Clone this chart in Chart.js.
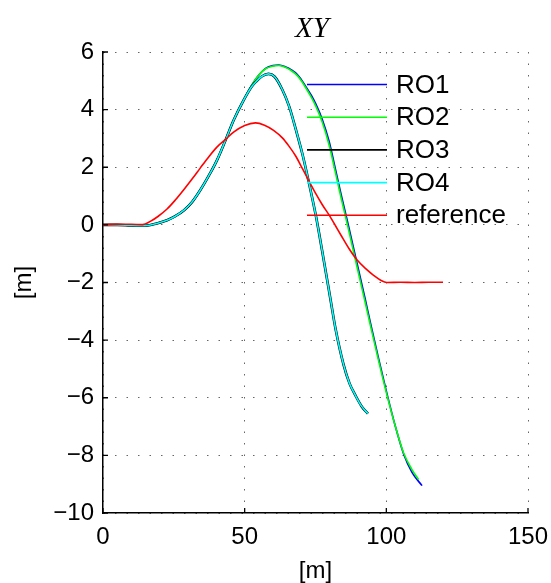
<!DOCTYPE html>
<html>
<head>
<meta charset="utf-8">
<script src="https://cdn.jsdelivr.net/npm/chart.js@4"></script>
<style>
  html, body { margin: 0; padding: 0; background: #fff; }
  canvas { display: block; }
</style>
</head>
<body>
<canvas id="xy" width="551" height="583"></canvas>
<script>
// series labels + colours
const seriesNames = ['RO1', 'RO2', 'RO3', 'RO4', 'reference'];
const seriesColors = ['#0000ff', '#00ff00', '#000000', '#00ffff', '#ff0000'];

// values
const ro1X = [0, 5, 10, 15, 19, 22.6, 25.5, 28.5, 31.5, 34.3, 37.3, 40.2, 43.2, 46.1, 49.6, 52.5, 55, 57.4, 60, 62.1, 64.5, 66.5, 68.5, 70, 71.6, 73.5, 75.1, 77.4, 79.8, 82, 84, 86.7, 89.7, 92.6, 94.4, 97.3, 100.2, 103.2, 106.1, 109.1, 112.6];
const ro1Y = [0, 0, -0.02, -0.03, 0.05, 0.16, 0.3, 0.5, 0.8, 1.2, 1.7, 2.24, 2.93, 3.63, 4.32, 4.85, 5.2, 5.43, 5.53, 5.55, 5.48, 5.38, 5.23, 5.04, 4.8, 4.5, 4.2, 3.66, 2.9, 1.95, 1.07, -0.05, -1.35, -2.6, -3.4, -4.65, -5.85, -7.0, -7.95, -8.6, -9.05];

const ro2X = [0, 5, 10, 15, 19, 22.6, 25.5, 28.5, 31.5, 34.3, 37.3, 40.2, 43.2, 46.1, 49.6, 52.5, 55, 57.4, 60, 62.1, 64.5, 66.5, 68.5, 70, 71.6, 73.5, 75.1, 77.4, 79.8, 82, 84, 86.7, 89.7, 92.6, 94.4, 97.3, 100.2, 103.2, 106.1, 109.1, 111.4];
const ro2Y = [0, 0, -0.02, -0.03, 0.05, 0.16, 0.3, 0.5, 0.8, 1.2, 1.7, 2.24, 2.93, 3.63, 4.32, 4.85, 5.2, 5.42, 5.51, 5.53, 5.46, 5.35, 5.19, 5.0, 4.75, 4.43, 4.12, 3.56, 2.77, 1.83, 0.95, -0.18, -1.48, -2.72, -3.5, -4.73, -5.9, -7.0, -7.92, -8.5, -8.84];

const ro3X = [0, 5, 10, 15, 19, 22.6, 25.5, 28.5, 31.5, 34.3, 37.3, 40.2, 43.2, 46.1, 49.6, 52.5, 54, 56, 58.4, 60.5, 63.3, 65.7, 68, 70.4, 72.7, 75.1, 77.4, 80.4, 82, 84.9, 87, 89.1, 91.3, 93.5];
const ro3Y = [0, 0, -0.02, -0.03, 0.05, 0.16, 0.3, 0.5, 0.8, 1.2, 1.7, 2.24, 2.93, 3.63, 4.32, 4.8, 4.97, 5.15, 5.24, 5.15, 4.69, 4.11, 3.33, 2.45, 1.45, 0.33, -0.93, -2.65, -3.57, -4.85, -5.5, -5.92, -6.3, -6.55];

const ro4X = [0, 5, 10, 15, 19, 22.6, 25.5, 28.5, 31.5, 34.3, 37.3, 40.2, 43.2, 46.1, 49.6, 52.5, 54, 56, 58.4, 60.5, 63.3, 65.7, 68, 70.4, 72.7, 75.1, 77.4, 80.4, 82, 84.9, 87, 89.1, 91.3, 93.5];
const ro4Y = [0, 0, -0.02, -0.03, 0.05, 0.16, 0.3, 0.5, 0.8, 1.2, 1.7, 2.24, 2.93, 3.63, 4.32, 4.8, 4.97, 5.15, 5.24, 5.15, 4.69, 4.11, 3.33, 2.45, 1.45, 0.33, -0.93, -2.65, -3.57, -4.85, -5.5, -5.92, -6.3, -6.55];

const refX = [0, 5, 10, 14, 16.7, 19.5, 22.6, 25.5, 28.5, 31.5, 34.3, 37.3, 40.2, 43.2, 46.1, 50, 53.8, 57, 60.2, 63.3, 65.5, 68, 70.4, 72.7, 75, 77.4, 80.2, 82.1, 84, 86.8, 89.7, 92.7, 95.5, 98, 100.2, 105, 110, 115, 120];
const refY = [0, 0.02, 0.02, 0.01, 0.12, 0.3, 0.55, 0.86, 1.22, 1.6, 1.97, 2.36, 2.7, 2.96, 3.22, 3.45, 3.54, 3.46, 3.28, 3.02, 2.75, 2.39, 1.95, 1.52, 1.1, 0.7, 0.28, -0.04, -0.36, -0.82, -1.22, -1.52, -1.75, -1.92, -2.0, -1.99, -2.0, -1.99, -1.99];

// axis ticks
const xTicks = [0, 50, 100, 150];
const yTicks = [-10, -8, -6, -4, -2, 0, 2, 4, 6];

const allX = [ro1X, ro2X, ro3X, ro4X, refX];
const allY = [ro1Y, ro2Y, ro3Y, ro4Y, refY];

const datasets = seriesNames.map((name, i) => ({
    label: name,
    data: allX[i].map((x, k) => ({x: x, y: allY[i][k]})),
    borderColor: seriesColors[i],
    backgroundColor: seriesColors[i],
    borderWidth: i === 2 ? 2.6 : 1.6,
    showLine: true,
    pointRadius: 0,
    cubicInterpolationMode: 'monotone',
    fill: false,
    order: 5 - i   // matlab draws later lines on top
}));

const minus = v => (v < 0 ? '\u2212' + Math.abs(v) : '' + v);

// inward tick marks, legend, title
const extras = {
    id: 'extras',
    afterDraw(chart) {
        const ctx = chart.ctx;
        const area = chart.chartArea;
        const xs = chart.scales.x, ys = chart.scales.y;
        ctx.save();
        ctx.strokeStyle = '#000';
        ctx.lineWidth = 1.3;
        ctx.beginPath();
        yTicks.forEach(t => {
            const py = ys.getPixelForValue(t);
            ctx.moveTo(area.left, py);
            ctx.lineTo(area.left + 5, py);
        });
        xTicks.forEach(t => {
            const px = xs.getPixelForValue(t);
            ctx.moveTo(px, area.bottom);
            ctx.lineTo(px, area.bottom - 5);
        });
        ctx.stroke();

        // legend (matlab style, no box)
        ctx.font = '26px "Liberation Sans", Arial, sans-serif';
        ctx.textBaseline = 'middle';
        ctx.textAlign = 'left';
        seriesNames.forEach((name, i) => {
            const ly = 84.5 + i * 32.7;
            ctx.strokeStyle = seriesColors[i];
            ctx.lineWidth = 1.6;
            ctx.beginPath();
            ctx.moveTo(307, ly);
            ctx.lineTo(387, ly);
            ctx.stroke();
            ctx.fillStyle = '#000';
            ctx.fillText(name, 396, ly + 1);
        });

        // title
        ctx.font = 'italic 29px "Liberation Serif", "Times New Roman", serif';
        ctx.textAlign = 'center';
        ctx.fillText('XY', 312, 29);
        ctx.restore();
    }
};

const tickFont = {family: '"Liberation Sans", Arial, sans-serif', size: 24};

new Chart(document.getElementById('xy'), {
    type: 'scatter',
    data: {datasets: datasets},
    options: {
        responsive: false,
        animation: false,
        devicePixelRatio: 1,
        layout: {padding: {top: 52, right: 23, left: 0, bottom: 0}},
        plugins: {legend: {display: false}, tooltip: {enabled: false}, title: {display: false}},
        scales: {
            x: {
                type: 'linear',
                min: 0, max: 150,
                afterBuildTicks: s => { s.ticks = xTicks.map(v => ({value: v})); },
                afterFit: s => { s.height = 70; s.paddingLeft = 0; s.paddingRight = 0; },
                ticks: {color: '#000', font: tickFont, padding: 10, maxRotation: 0, callback: minus},
                grid: {color: 'rgba(0,0,0,0.6)', lineWidth: 1, drawTicks: false},
                border: {display: true, color: '#000', width: 1.5, dash: [1.5, 10]},
                title: {display: true, text: '[m]', color: '#000', font: {family: '"Liberation Sans", Arial, sans-serif', size: 24, lineHeight: 1}, padding: {top: 0, bottom: 0}}
            },
            y: {
                type: 'linear',
                min: -10, max: 6,
                afterBuildTicks: s => { s.ticks = yTicks.map(v => ({value: v})); },
                afterFit: s => { s.width = 103; s.paddingTop = 0; s.paddingBottom = 0; },
                ticks: {color: '#000', font: tickFont, padding: 9, callback: minus},
                grid: {color: 'rgba(0,0,0,0.6)', lineWidth: 1, drawTicks: false},
                border: {display: true, color: '#000', width: 1.5, dash: [1.5, 10]},
                title: {display: true, text: '[m]', color: '#000', font: {family: '"Liberation Sans", Arial, sans-serif', size: 24, lineHeight: 1}, padding: {top: 12, bottom: 0}}
            }
        }
    },
    plugins: [extras]
});
</script>
</body>
</html>
